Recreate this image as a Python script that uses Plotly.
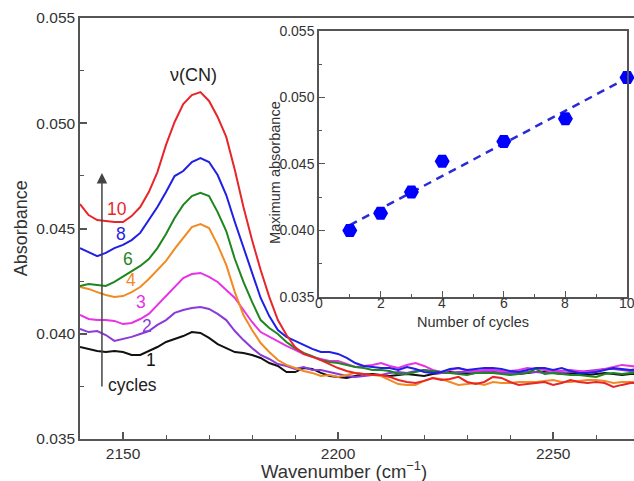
import plotly.graph_objects as go
import numpy as np

wavenumber = list(range(2140, 2272, 2))

abs_1 = [0.03937, 0.03928, 0.03918, 0.03913, 0.03918, 0.03913, 0.03899, 0.03899, 0.03918, 0.03937,
         0.03961, 0.03975, 0.03989, 0.04008, 0.04004, 0.03980, 0.03951, 0.03932, 0.03913, 0.03909,
         0.03899, 0.03885, 0.03861, 0.03847, 0.03818, 0.03818, 0.03837, 0.03833, 0.03814, 0.03799,
         0.03795, 0.03790, 0.03799, 0.03809, 0.03809, 0.03804, 0.03799, 0.03804, 0.03809, 0.03804,
         0.03799, 0.03809, 0.03814, 0.03818, 0.03814, 0.03809, 0.03814, 0.03818, 0.03818, 0.03814,
         0.03814, 0.03809, 0.03814, 0.03818, 0.03818, 0.03814, 0.03809, 0.03814, 0.03809, 0.03804,
         0.03809, 0.03814, 0.03809, 0.03804, 0.03809, 0.03809]
abs_2 = [0.04023, 0.04008, 0.04013, 0.03994, 0.03966, 0.03975, 0.03985, 0.03999, 0.04013, 0.04042,
         0.04065, 0.04099, 0.04113, 0.04122, 0.04127, 0.04118, 0.04094, 0.04065, 0.04013, 0.03970,
         0.03932, 0.03899, 0.03880, 0.03856, 0.03847, 0.03833, 0.03842, 0.03828, 0.03828, 0.03818,
         0.03809, 0.03799, 0.03795, 0.03799, 0.03804, 0.03804, 0.03814, 0.03818, 0.03814, 0.03823,
         0.03828, 0.03818, 0.03814, 0.03814, 0.03818, 0.03818, 0.03818, 0.03818, 0.03818, 0.03814,
         0.03814, 0.03814, 0.03818, 0.03818, 0.03814, 0.03814, 0.03814, 0.03818, 0.03818, 0.03823,
         0.03828, 0.03833, 0.03833, 0.03828, 0.03823, 0.03823]
abs_3 = [0.04089, 0.04070, 0.04065, 0.04065, 0.04061, 0.04046, 0.04051, 0.04070, 0.04094, 0.04137,
         0.04179, 0.04227, 0.04265, 0.04284, 0.04289, 0.04270, 0.04246, 0.04208, 0.04170, 0.04113,
         0.04056, 0.04008, 0.03985, 0.03961, 0.03942, 0.03923, 0.03904, 0.03890, 0.03880, 0.03871,
         0.03871, 0.03856, 0.03842, 0.03847, 0.03852, 0.03861, 0.03847, 0.03837, 0.03852, 0.03861,
         0.03847, 0.03828, 0.03818, 0.03828, 0.03837, 0.03823, 0.03823, 0.03828, 0.03828, 0.03823,
         0.03823, 0.03828, 0.03837, 0.03833, 0.03828, 0.03823, 0.03823, 0.03828, 0.03823, 0.03818,
         0.03823, 0.03833, 0.03842, 0.03852, 0.03847, 0.03842]
abs_4 = [0.04222, 0.04213, 0.04198, 0.04184, 0.04175, 0.04179, 0.04198, 0.04222, 0.04260, 0.04303,
         0.04346, 0.04403, 0.04455, 0.04507, 0.04521, 0.04502, 0.04422, 0.04327, 0.04198, 0.04089,
         0.04018, 0.03956, 0.03913, 0.03875, 0.03852, 0.03837, 0.03823, 0.03814, 0.03799, 0.03804,
         0.03795, 0.03804, 0.03814, 0.03809, 0.03804, 0.03799, 0.03780, 0.03761, 0.03757, 0.03757,
         0.03776, 0.03790, 0.03785, 0.03771, 0.03757, 0.03761, 0.03766, 0.03757, 0.03771, 0.03766,
         0.03766, 0.03771, 0.03771, 0.03771, 0.03776, 0.03780, 0.03771, 0.03771, 0.03776, 0.03780,
         0.03780, 0.03776, 0.03766, 0.03771, 0.03771, 0.03771]
abs_6 = [0.04227, 0.04236, 0.04232, 0.04227, 0.04246, 0.04270, 0.04298, 0.04322, 0.04355, 0.04407,
         0.04474, 0.04550, 0.04612, 0.04654, 0.04669, 0.04654, 0.04578, 0.04488, 0.04355, 0.04246,
         0.04151, 0.04065, 0.04027, 0.03999, 0.03961, 0.03932, 0.03909, 0.03894, 0.03875, 0.03866,
         0.03861, 0.03852, 0.03842, 0.03837, 0.03828, 0.03828, 0.03823, 0.03809, 0.03809, 0.03818,
         0.03828, 0.03823, 0.03818, 0.03814, 0.03809, 0.03804, 0.03814, 0.03814, 0.03814, 0.03809,
         0.03804, 0.03809, 0.03814, 0.03833, 0.03809, 0.03814, 0.03809, 0.03804, 0.03804, 0.03799,
         0.03795, 0.03809, 0.03814, 0.03809, 0.03814, 0.03818]
abs_8 = [0.04407, 0.04388, 0.04369, 0.04384, 0.04407, 0.04422, 0.04445, 0.04479, 0.04540, 0.04602,
         0.04673, 0.04749, 0.04773, 0.04816, 0.04835, 0.04816, 0.04754, 0.04659, 0.04531, 0.04412,
         0.04289, 0.04170, 0.04084, 0.04018, 0.03985, 0.03966, 0.03947, 0.03928, 0.03913, 0.03913,
         0.03904, 0.03885, 0.03861, 0.03847, 0.03842, 0.03837, 0.03837, 0.03828, 0.03842, 0.03833,
         0.03818, 0.03814, 0.03818, 0.03833, 0.03837, 0.03828, 0.03833, 0.03837, 0.03837, 0.03833,
         0.03823, 0.03818, 0.03828, 0.03837, 0.03837, 0.03828, 0.03837, 0.03823, 0.03814, 0.03814,
         0.03818, 0.03828, 0.03837, 0.03833, 0.03828, 0.03833]
abs_10 = [0.04616, 0.04564, 0.04540, 0.04536, 0.04531, 0.04531, 0.04559, 0.04602, 0.04673, 0.04768,
          0.04897, 0.05006, 0.05091, 0.05134, 0.05148, 0.05106, 0.05030, 0.04935, 0.04778, 0.04602,
          0.04445, 0.04303, 0.04175, 0.04065, 0.03994, 0.03937, 0.03904, 0.03890, 0.03875, 0.03856,
          0.03837, 0.03823, 0.03814, 0.03809, 0.03804, 0.03804, 0.03795, 0.03780, 0.03771, 0.03766,
          0.03776, 0.03790, 0.03780, 0.03785, 0.03795, 0.03771, 0.03761, 0.03771, 0.03795, 0.03790,
          0.03771, 0.03757, 0.03761, 0.03766, 0.03771, 0.03757, 0.03766, 0.03780, 0.03771, 0.03766,
          0.03771, 0.03766, 0.03747, 0.03757, 0.03766, 0.03766]

series_labels = ["1", "2", "3", "4", "6", "8", "10"]
series_colors = ["#111111", "#8a3ad8", "#e633e6", "#f28a22", "#1f861f", "#1f1fe6", "#e8262a"]
series_values = [abs_1, abs_2, abs_3, abs_4, abs_6, abs_8, abs_10]

# label positions (wavenumber, absorbance)
label_x = [2156.5, 2155.6, 2154.2, 2151.9, 2151.2, 2149.5, 2148.6]
label_y = [0.03875, 0.04037, 0.04151, 0.04255, 0.04355, 0.04474, 0.04593]

cycles = [1, 2, 3, 4, 6, 8, 10]
max_abs = [0.0400, 0.0413, 0.0429, 0.0452, 0.0467, 0.0484, 0.0515]
inset_xticks = [0, 2, 4, 6, 8, 10]

FONT = "Liberation Sans, Arial, Helvetica, sans-serif"
AX = "#555555"
TXT = "#333333"

fig = go.Figure()

for lab, col, vals in zip(series_labels, series_colors, series_values):
    fig.add_trace(go.Scatter(x=wavenumber, y=vals, mode="lines",
                             line=dict(color=col, width=2), name=lab,
                             showlegend=False, xaxis="x", yaxis="y"))

# inset
coef = np.polyfit(cycles, max_abs, 1)
fit_x = [cycles[0], cycles[-1]]
fit_y = [float(np.polyval(coef, c)) for c in fit_x]
fig.add_trace(go.Scatter(x=fit_x, y=fit_y, mode="lines",
                         line=dict(color="#2a2ad6", width=2.5, dash="8px,6px"),
                         showlegend=False, xaxis="x2", yaxis="y2"))
fig.add_trace(go.Scatter(x=cycles, y=max_abs, mode="markers",
                         marker=dict(symbol="hexagon2", size=15, color="#0000ff",
                                     line=dict(width=0)),
                         cliponaxis=False,
                         showlegend=False, xaxis="x2", yaxis="y2"))

C = dict(xanchor="center", yanchor="middle", showarrow=False)
annotations = []
for lab, col, lx, ly in zip(series_labels, series_colors, label_x, label_y):
    annotations.append(dict(x=lx, y=ly, xref="x", yref="y", text=lab,
                            font=dict(family=FONT, size=17.5, color=col), **C))
# inset x tick labels drawn as text so the clipped "10" at the edge still shows
for t in inset_xticks:
    annotations.append(dict(x=t, y=0.322, xref="x2", yref="paper", text=str(t),
                            font=dict(family=FONT, size=14, color=TXT), **C))
annotations += [
    dict(x=2166.3, y=0.05229, xref="x", yref="y", text="ν(CN)",
         font=dict(family=FONT, size=18, color="#222222"), **C),
    dict(x=2152.3, y=0.03757, xref="x", yref="y", text="cycles",
         font=dict(family=FONT, size=17.5, color="#222222"), **C),
    dict(x=2145.1, y=0.04764, ax=2145.1, ay=0.03742, xref="x", yref="y",
         axref="x", ayref="y", text="", showarrow=True, arrowhead=2,
         arrowsize=1.4, arrowwidth=1.5, arrowcolor="#444444"),
    dict(x=-0.106, y=0.501, xref="paper", yref="paper", text="Absorbance",
         textangle=-90, font=dict(family=FONT, size=18, color=TXT), **C),
    dict(x=0.4765, y=-0.073, xref="paper", yref="paper", text="Wavenumber (cm<sup>−1</sup>)",
         font=dict(family=FONT, size=18.5, color=TXT), **C),
    dict(x=0.352, y=0.632, xref="paper", yref="paper", text="Maximum absorbance",
         textangle=-90, font=dict(family=FONT, size=14.5, color=TXT), **C),
    dict(x=0.7094, y=0.279, xref="paper", yref="paper", text="Number of cycles",
         font=dict(family=FONT, size=14.5, color=TXT), **C),
]

fig.update_layout(
    width=634, height=481,
    margin=dict(l=80, r=0, t=18, b=42, autoexpand=False),
    paper_bgcolor="white", plot_bgcolor="white",
    font=dict(family=FONT, color=TXT),
    xaxis=dict(range=[2140, 2268.8], tick0=2150, dtick=50, ticks="inside", ticklen=7,
               tickwidth=1.5, tickcolor=AX, showline=True, linecolor=AX, linewidth=1.5,
               mirror=True, showgrid=False, zeroline=False, automargin=False,
               tickfont=dict(size=15.5, color=TXT),
               minor=dict(dtick=10, tick0=2150, ticks="inside", ticklen=4, tickcolor=AX,
                          tickwidth=1.2, showgrid=False)),
    yaxis=dict(range=[0.035, 0.055], dtick=0.005, tick0=0.035, tickformat=".3f",
               ticks="inside", ticklen=7, tickwidth=1.5, tickcolor=AX, showline=True,
               linecolor=AX, linewidth=1.5, showgrid=False, zeroline=False, automargin=False,
               tickfont=dict(size=15.5, color=TXT),
               minor=dict(dtick=0.0025, tick0=0.035, ticks="inside", ticklen=4,
                          tickcolor=AX, tickwidth=1.2, showgrid=False)),
    xaxis2=dict(domain=[0.4314, 0.9874], anchor="y2", range=[0, 10], dtick=2, tick0=0,
                ticks="inside", ticklen=6, tickwidth=1.2, tickcolor=AX, showline=True,
                linecolor=AX, linewidth=1.5, mirror=True, showgrid=False, zeroline=False,
                automargin=False, showticklabels=False,
                minor=dict(dtick=1, tick0=0, ticks="inside", ticklen=3, tickcolor=AX,
                           showgrid=False)),
    yaxis2=dict(domain=[0.3373, 0.9691], anchor="x2", range=[0.035, 0.055], dtick=0.005,
                tick0=0.035, tickformat=".3f", ticks="inside", ticklen=6, tickwidth=1.2,
                tickcolor=AX, showline=True, linecolor=AX, linewidth=1.5, mirror=True,
                showgrid=False, zeroline=False, automargin=False,
                tickfont=dict(size=14, color=TXT),
                minor=dict(dtick=0.0025, tick0=0.035, ticks="inside", ticklen=3,
                           tickcolor=AX, showgrid=False)),
    annotations=annotations,
)

fig.write_html("out.html", config={"displayModeBar": False},
               post_script="document.body.style.margin='0';"
                           "document.documentElement.style.margin='0';"
                           "document.body.style.overflow='hidden';")
